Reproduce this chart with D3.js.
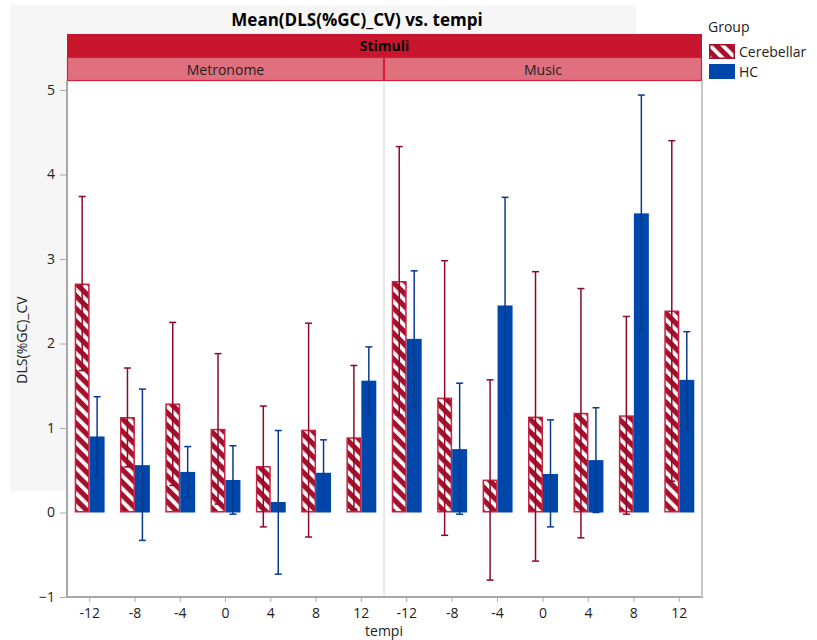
<!DOCTYPE html>
<html><head><meta charset="utf-8">
<script src="https://cdn.jsdelivr.net/npm/d3@7"></script>
<style>
body{margin:0;background:#fff;}
svg{display:block;font-family:"Open Sans","Noto Sans",sans-serif;}
</style></head>
<body>
<svg id="c" width="817" height="640"></svg>
<script>
const tempi = ["-12","-8","-4","0","4","8","12"];
const panels = ["Metronome","Music"];
const groups = ["Cerebellar","HC"];

// Metronome
const metroCereb      = [2.71, 1.13, 1.29, 0.99, 0.55, 0.98, 0.89];
const metroCerebLow   = [1.68, 0.54, 0.32, 0.10, -0.17, -0.29, 0.04];
const metroCerebHigh  = [3.74, 1.71, 2.25, 1.88, 1.26, 2.24, 1.74];
const metroHC         = [0.90, 0.56, 0.48, 0.385, 0.125, 0.47, 1.56];
const metroHCLow      = [0.43, -0.33, 0.18, -0.02, -0.73, 0.08, 1.17];
const metroHCHigh     = [1.37, 1.46, 0.78, 0.79, 0.97, 0.86, 1.96];
// Music
const musicCereb      = [2.74, 1.36, 0.39, 1.135, 1.18, 1.15, 2.39];
const musicCerebLow   = [1.15, -0.27, -0.80, -0.575, -0.30, -0.02, 0.37];
const musicCerebHigh  = [4.33, 2.98, 1.57, 2.85, 2.65, 2.32, 4.40];
const musicHC         = [2.055, 0.75, 2.45, 0.456, 0.62, 3.54, 1.57];
const musicHCLow      = [1.25, -0.02, 1.175, -0.17, 0.0, 2.15, 0.99];
const musicHCHigh     = [2.86, 1.53, 3.73, 1.096, 1.24, 4.94, 2.14];

const yTicks = [-1,0,1,2,3,4,5];

const data = {
  Metronome: {Cerebellar:[metroCereb,metroCerebLow,metroCerebHigh], HC:[metroHC,metroHCLow,metroHCHigh]},
  Music: {Cerebellar:[musicCereb,musicCerebLow,musicCerebHigh], HC:[musicHC,musicHCLow,musicHCHigh]}
};

const svg = d3.select("#c");
const L = 67, R = 702, T = 81, B = 597, MID = 384;
const y = d3.scaleLinear().domain([-1,5]).range([597,90]);
const panelRange = {Metronome:[L,MID], Music:[MID,R]};

const defs = svg.append("defs");
function hatch(id, size){
  const p = defs.append("pattern").attr("id",id).attr("patternUnits","userSpaceOnUse")
    .attr("width",size).attr("height",size).attr("patternTransform","rotate(-45)");
  p.append("rect").attr("width",size).attr("height",size).attr("fill","#a5102d");
  p.append("rect").attr("x",0).attr("width",size*0.42).attr("height",size).attr("fill","#ffffff");
}
hatch("hatch",9);
hatch("hatchL",9);

// gray background
svg.append("rect").attr("x",10).attr("y",5).attr("width",626).attr("height",486).attr("fill","#f6f6f6");
// plot area
svg.append("rect").attr("x",L).attr("y",T).attr("width",R-L).attr("height",B-T).attr("fill","#fff");

// title
svg.append("text").attr("x",357).attr("y",26).attr("text-anchor","middle")
  .attr("font-size",17).attr("font-weight","bold").attr("fill","#000").text("Mean(DLS(%GC)_CV) vs. tempi");

// strips
svg.append("rect").attr("x",L).attr("y",34).attr("width",R-L).attr("height",23).attr("fill","#c8162f");
svg.append("text").attr("x",(L+R)/2).attr("y",51).attr("text-anchor","middle")
  .attr("font-size",14).attr("font-weight","bold").attr("fill","#000").text("Stimuli");
panels.forEach(p=>{
  const [a,b] = panelRange[p];
  svg.append("rect").attr("x",a+0.5).attr("y",57.5).attr("width",b-a-1).attr("height",23)
    .attr("fill","#e0707e").attr("stroke","#d6203a").attr("stroke-width",1.2);
  svg.append("text").attr("x",(a+b)/2).attr("y",75).attr("text-anchor","middle")
    .attr("font-size",14).attr("fill","#222").text(p);
});

// panel divider
svg.append("line").attr("x1",MID).attr("x2",MID).attr("y1",T).attr("y2",B).attr("stroke","#d4d4d4").attr("stroke-width",1);

// bars
panels.forEach(p=>{
  const x = d3.scaleBand().domain(tempi).range(panelRange[p]).paddingInner(0.34).paddingOuter(0.17);
  const xg = d3.scaleBand().domain(groups).range([0,x.bandwidth()]);
  const g = svg.append("g");
  groups.forEach(gr=>{
    const [m,lo,hi] = data[p][gr];
    tempi.forEach((t,i)=>{
      const x0 = x(t)+xg(gr);
      const y0 = y(Math.max(0,m[i])), y1 = y(Math.min(0,m[i]));
      if(gr==="Cerebellar"){
        g.append("rect").attr("x",x0+0.75).attr("y",y0+0.75).attr("width",xg.bandwidth()-1.5).attr("height",Math.max(0,y1-y0-1.5))
          .attr("fill","url(#hatch)").attr("stroke","#c42444").attr("stroke-width",1.5);
      } else {
        g.append("rect").attr("x",x0).attr("y",y0).attr("width",xg.bandwidth()).attr("height",y1-y0).attr("fill","#0047ab");
      }
    });
  });
  groups.forEach(gr=>{
    const [m,lo,hi] = data[p][gr];
    const col = gr==="Cerebellar" ? "#8c0a28" : "#0a3a8c";
    tempi.forEach((t,i)=>{
      const cx = x(t)+xg(gr)+xg.bandwidth()/2;
      g.append("line").attr("x1",cx).attr("x2",cx).attr("y1",y(lo[i])).attr("y2",y(hi[i])).attr("stroke",col).attr("stroke-width",1.5);
      [lo[i],hi[i]].forEach(v=>{
        g.append("line").attr("x1",cx-3.5).attr("x2",cx+3.5).attr("y1",y(v)).attr("y2",y(v)).attr("stroke",col).attr("stroke-width",1.5);
      });
    });
  });
  // x axis
  const ax = svg.append("g").attr("transform",`translate(0,${B})`).call(d3.axisBottom(x).tickSize(5).tickPadding(6));
  ax.select(".domain").remove();
  ax.selectAll(".tick line").attr("stroke","#aaa");
  ax.selectAll("text").attr("font-size",14).attr("fill","#222").attr("font-family","'Open Sans','Noto Sans',sans-serif");
});

// frame
svg.append("line").attr("x1",L).attr("x2",L).attr("y1",T).attr("y2",B+1).attr("stroke","#a8a8a8").attr("stroke-width",2);
svg.append("line").attr("x1",L).attr("x2",R+1).attr("y1",B).attr("y2",B).attr("stroke","#a8a8a8").attr("stroke-width",2);
svg.append("line").attr("x1",R).attr("x2",R).attr("y1",T).attr("y2",B).attr("stroke","#c8c8c8").attr("stroke-width",2);

// y axis
const ay = svg.append("g").attr("transform",`translate(${L-1},0)`).call(d3.axisLeft(y).tickValues(yTicks).tickSize(6).tickPadding(5).tickFormat(d3.format("d")));
ay.select(".domain").remove();
ay.selectAll(".tick line").attr("stroke","#aaa");
ay.selectAll("text").attr("font-size",14).attr("fill","#222").attr("font-family","'Open Sans','Noto Sans',sans-serif");

// axis titles
svg.append("text").attr("transform","translate(27,340) rotate(-90)").attr("text-anchor","middle")
  .attr("font-size",14).attr("fill","#222").text("DLS(%GC)_CV");
svg.append("text").attr("x",384).attr("y",636).attr("text-anchor","middle")
  .attr("font-size",14).attr("fill","#222").text("tempi");

// legend
svg.append("text").attr("x",708).attr("y",32).attr("font-size",14).attr("fill","#222").text("Group");
svg.append("rect").attr("x",709.75).attr("y",44.75).attr("width",24.5).attr("height",13.5).attr("fill","url(#hatchL)").attr("stroke","#a5102d").attr("stroke-width",1.5);
svg.append("text").attr("x",739).attr("y",57).attr("font-size",14).attr("fill","#222").text("Cerebellar");
svg.append("rect").attr("x",709).attr("y",64).attr("width",26).attr("height",15).attr("fill","#0047ab");
svg.append("text").attr("x",739).attr("y",77).attr("font-size",14).attr("fill","#222").text("HC");
</script>
</body></html>
